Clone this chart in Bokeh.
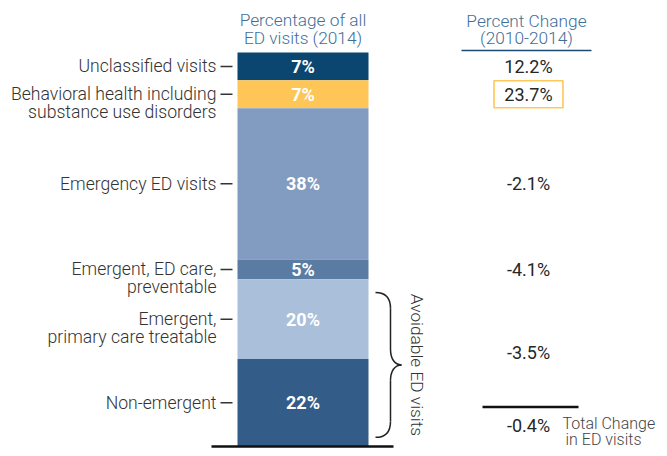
import math
from bokeh.plotting import figure
from bokeh.models import ColumnDataSource, Range1d
from bokeh.core.properties import value
from bokeh.embed import file_html
from bokeh.resources import INLINE

# ---------------- data ----------------
categories = ["Unclassified visits",
              "Behavioral health including substance use disorders",
              "Emergency ED visits",
              "Emergent, ED care, preventable",
              "Emergent, primary care treatable",
              "Non-emergent"]
label_line1 = ["Unclassified visits", "Behavioral health including", "Emergency ED visits",
               "Emergent, ED care,", "Emergent,", "Non-emergent"]
label_line2 = ["", "substance use disorders", "", "preventable", "primary care treatable", ""]
share_2014 = [7, 7, 38, 5, 20, 22]          # % of all ED visits (2014)
pct_change = [12.2, 23.7, -2.1, -4.1]       # % change 2010-2014, first four categories
avoidable_change = -3.5                      # the two avoidable categories together
total_change = -0.4
colors = ["#0b4670", "#fec656", "#819cc0", "#5a7ca3", "#aabfd9", "#335d88"]

header_left = ["Percentage of all", "ED visits (2014)"]
header_right = ["Percent Change", "(2010-2014)"]

# ---------------- layout ----------------
W, H = 659, 448
PX = 3.98                      # screen px per percentage point
Y0 = -2 / PX
Y1 = Y0 + H / PX
FONT = value("Roboto")
LIGHT = value("Roboto Light")
FS = "17.6px"
FS_HEAD = "17.3px"
FS_NUM = "18px"
BAR_X, BAR_W = 302.5, 131
VAL_X = 528

def dy(px):
    return px / PX

# stack from bottom
bottoms, tops = [0] * len(share_2014), [0] * len(share_2014)
cum = 0
for i in reversed(range(len(share_2014))):
    bottoms[i] = cum
    cum += share_2014[i]
    tops[i] = cum
centers = [(b + t) / 2 for b, t in zip(bottoms, tops)]
total = cum

p = figure(width=W, height=H, x_range=Range1d(0, W), y_range=Range1d(Y0, Y1),
           toolbar_location=None, output_backend="svg", min_border=0,
           x_axis_type=None, y_axis_type=None, outline_line_color=None,
           background_fill_color="white", border_fill_color="white")

src = ColumnDataSource(dict(cat=categories, bottom=bottoms, top=tops, color=colors,
                            center=centers, lab=[f"{s}%" for s in share_2014],
                            l1=label_line1, l2=label_line2,
                            l2y=[c - dy(17.9) for c in centers]))

p.vbar(x=BAR_X, width=BAR_W, bottom="bottom", top="top", fill_color="color",
       line_color=None, source=src)
p.text(x=BAR_X, y="center", text="lab", source=src, text_color="white",
       text_font=FONT, text_font_style="bold", text_font_size=FS_NUM,
       text_align="center", text_baseline="middle")

# left labels with dashes
p.text(x=216, y="center", text="l1", source=src, text_color="#333333", text_font=LIGHT,
       text_font_size=FS, text_align="right", text_baseline="middle")
p.text(x=216, y="l2y", text="l2", source=src, text_color="#333333", text_font=LIGHT,
       text_font_size=FS, text_align="right", text_baseline="middle")
p.segment(x0=220, x1=232, y0="center", y1="center", source=src,
          line_color="#333333", line_width=1.5)

# baseline
p.segment(x0=[211], x1=[393], y0=[0], y1=[0], line_color="#111111", line_width=2.5)

# headers
p.text(x=BAR_X, y=[107.2, 102.7], text=header_left, text_color="#3f6e98", text_font=LIGHT,
       text_font_size=FS_HEAD, text_align="center", text_baseline="middle")
p.text(x=526, y=[106.9, 102.7], text=header_right, text_color="#3f6e98", text_font=LIGHT,
       text_font_size=FS_HEAD, text_align="center", text_baseline="middle")
p.segment(x0=[461], x1=[591], y0=[total + 0.5], y1=[total + 0.5],
          line_color="#1b4a72", line_width=1.5)

# right-hand values
p.text(x=VAL_X, y=centers[:len(pct_change)], text=[f"{v:.1f}%" for v in pct_change],
       text_color="#262626", text_font=FONT, text_font_size=FS_NUM,
       text_align="center", text_baseline="middle")
p.rect(x=[VAL_X], y=[centers[1]], width=69, height=27, height_units="screen",
       fill_color=None, line_color="#fdc75a", line_width=1.6)

# avoidable brace
av_top = tops[4]
av_bot = bottoms[5]
bt, bb = av_top - 3.3, av_bot + 2.3
mid = (bt + bb) / 2
xe, xv, xt = 375, 390, 401
r = 4.0
p.bezier(x0=[xe, xv, xt, xv], y0=[bt, mid + r, mid, bb + r],
         x1=[xv, xt, xv, xe], y1=[bt - r, mid, mid - r, bb],
         cx0=[xv - 4, xv, xv + 4, xv], cy0=[bt, mid + r * 0.4, mid, bb + r * 0.4],
         cx1=[xv, xv + 4, xv, xv - 4], cy1=[bt - r * 0.4, mid, mid - r * 0.4, bb],
         line_color="#222222", line_width=1.5)
p.segment(x0=[xv, xv], x1=[xv, xv], y0=[bt - r, mid - r], y1=[mid + r, bb + r],
          line_color="#222222", line_width=1.5)
p.text(x=[416], y=[mid], text=["Avoidable ED visits"], angle=-math.pi / 2,
       text_color="#333333", text_font=LIGHT, text_font_size=FS_HEAD,
       text_align="center", text_baseline="middle")
p.text(x=[VAL_X], y=[mid + 3.0], text=[f"{avoidable_change:.1f}%"], text_color="#262626",
       text_font=FONT, text_font_size=FS_NUM, text_align="center", text_baseline="middle")

# total change
p.segment(x0=[482], x1=[578], y0=[9.9], y1=[9.9], line_color="#111111", line_width=2.5)
p.text(x=[VAL_X], y=[5.4], text=[f"{total_change:.1f}%"], text_color="#262626",
       text_font=FONT, text_font_size=FS_NUM, text_align="center", text_baseline="middle")
p.text(x=[562, 565], y=[5.7, 1.7], text=["Total Change", "in ED visits"], text_color="#444444",
       text_font=LIGHT, text_font_size="16px", text_align="left", text_baseline="middle")

open("out.html", "w").write(file_html(p, INLINE))
